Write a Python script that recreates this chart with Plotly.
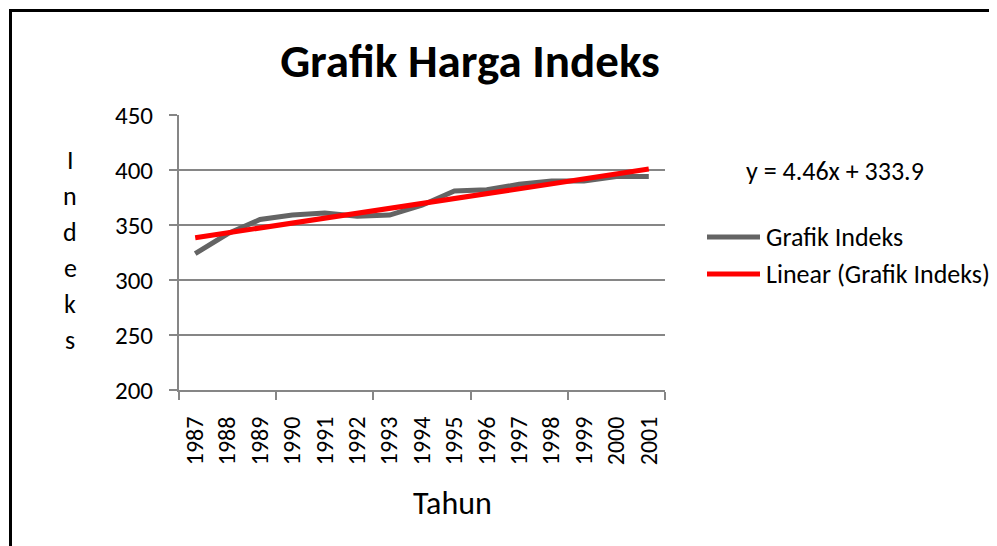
import numpy as np
import plotly.graph_objects as go

# ---- data ----
years = ["1987", "1988", "1989", "1990", "1991", "1992", "1993", "1994",
         "1995", "1996", "1997", "1998", "1999", "2000", "2001"]
indeks = [324, 342, 355, 359, 361, 358, 359, 368, 381, 382, 387, 390, 390, 394, 394]
y_ticks = [200, 250, 300, 350, 400, 450]
equation_label = "y = 4.46x + 333.9"
chart_title = "Grafik Harga Indeks"
x_title = "Tahun"
y_title = "Indeks"
series_name = "Grafik Indeks"
trend_name = "Linear (Grafik Indeks)"

# ---- derived ----
xpos = np.arange(1, len(years) + 1)
slope, intercept = np.polyfit(xpos, indeks, 1)
trend = slope * xpos + intercept

FONT = "Calibri, Carlito, Lato, sans-serif"
OFF = 8  # page body margin
W, H = 997 - OFF, 546 - OFF
# plot area in screen pixels
L, R, T, B = 179, 665, 115, 390
pw, ph = R - L, B - T
GRAY = "#646464"
RED = "#FF0000"


def px_x(p):
    return (p - L) / pw


def px_y(p):
    return (B - p) / ph


fig = go.Figure()
fig.add_trace(go.Scatter(
    x=xpos, y=indeks, mode="lines", name=series_name,
    line=dict(color=GRAY, width=5)))
fig.add_trace(go.Scatter(
    x=xpos, y=trend, mode="lines", name=trend_name,
    line=dict(color=RED, width=5)))

boundaries = [0.5 + 3 * i for i in range(len(years) // 3 + 1)]

fig.update_layout(
    width=W, height=H,
    margin=dict(l=L - OFF, r=W - (R - OFF), t=T - OFF, b=H - (B - OFF)),
    paper_bgcolor="white", plot_bgcolor="white",
    font=dict(family=FONT, size=26, color="black"),
    showlegend=False,
    title=dict(text="<b>" + chart_title + "</b>", font=dict(size=47, family=FONT),
               x=px_x(470), xref="paper", xanchor="center",
               y=1 - (61 - OFF) / H, yref="container", yanchor="middle"),
    xaxis=dict(range=[0.5, len(years) + 0.5], tickmode="array",
               tickvals=list(xpos), ticktext=years, tickangle=-90,
               tickfont=dict(size=24),
               ticks="", showgrid=False, zeroline=False,
               showline=True, linecolor="#868686", linewidth=2,
               ticklabelstandoff=15,
               minor=dict(tickmode="array", tickvals=boundaries, ticks="outside",
                          ticklen=8, tickwidth=2, tickcolor="#868686", showgrid=False)),
    yaxis=dict(range=[200, 450], tickmode="array", tickvals=y_ticks,
               tickfont=dict(size=25),
               ticks="outside", ticklen=8, tickwidth=2, tickcolor="#868686",
               showgrid=True, gridcolor="#868686", gridwidth=2,
               zeroline=False, showline=True, linecolor="#868686", linewidth=2,
               ticklabelstandoff=11),
)

# legend (drawn manually so it may run to the page edge like the original)
legend_items = [(series_name, GRAY, 237), (trend_name, RED, 274)]
for name, color, ypix in legend_items:
    fig.add_shape(type="line", xref="paper", yref="paper",
                  x0=px_x(707), x1=px_x(760), y0=px_y(ypix), y1=px_y(ypix),
                  line=dict(color=color, width=5))
    fig.add_annotation(text=name, xref="paper", yref="paper",
                       x=px_x(764), y=px_y(ypix), xanchor="left", yanchor="middle",
                       showarrow=False, font=dict(size=26))

# equation of trendline
fig.add_annotation(text=equation_label, xref="paper", yref="paper",
                   x=px_x(744), y=px_y(171), xanchor="left", yanchor="middle",
                   showarrow=False, font=dict(size=26))
# x axis title
fig.add_annotation(text=x_title, xref="paper", yref="paper",
                   x=px_x(452), y=px_y(503), xanchor="center", yanchor="middle",
                   showarrow=False, font=dict(size=32))
# y axis title: stacked letters
for i, ch in enumerate(y_title):
    fig.add_annotation(text=ch, xref="paper", yref="paper",
                       x=px_x(70), y=px_y(160 + i * 36), xanchor="center",
                       yanchor="middle", showarrow=False, font=dict(size=26))

# outer chart frame: only the left and top edges are inside the picture
fig.add_shape(type="line", xref="paper", yref="paper",
              x0=px_x(10.5), x1=px_x(10.5), y0=px_y(560), y1=px_y(9),
              line=dict(color="black", width=3))
fig.add_shape(type="line", xref="paper", yref="paper",
              x0=px_x(9), x1=px_x(1010), y0=px_y(10.5), y1=px_y(10.5),
              line=dict(color="black", width=3))

fig.write_html("out.html")
